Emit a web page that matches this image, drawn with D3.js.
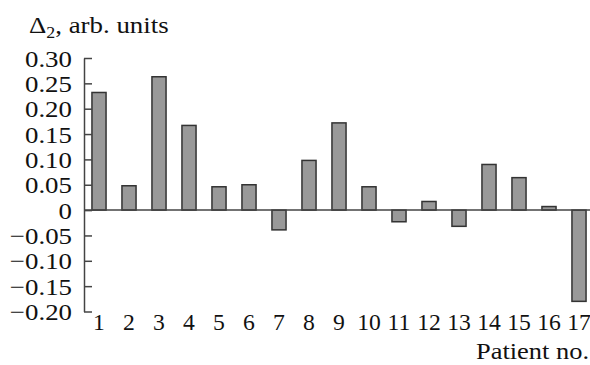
<!DOCTYPE html>
<html>
<head>
<meta charset="utf-8">
<script src="https://cdn.jsdelivr.net/npm/d3@7"></script>
<style>
  html, body { margin: 0; padding: 0; background: #fff; }
  svg { display: block; }
  text { font-family: "Liberation Serif", "Times New Roman", serif; fill: #111; }
</style>
</head>
<body>
<div id="chart"></div>
<script>
// Patient numbers and Δ2 values (arb. units)
const patients = [1, 2, 3, 4, 5, 6, 7, 8, 9, 10, 11, 12, 13, 14, 15, 16, 17];
const delta2 = [0.232, 0.048, 0.263, 0.167, 0.046, 0.050, -0.039, 0.098, 0.172, 0.046,
                -0.023, 0.017, -0.032, 0.090, 0.064, 0.007, -0.180];
const yTicks = [-0.20, -0.15, -0.10, -0.05, 0, 0.05, 0.10, 0.15, 0.20, 0.25, 0.30];

const W = 590, H = 365;
const fontSize = 24, stretch = 1.12, xFont = 23, xStretch = 1.03;

const svg = d3.select("#chart").append("svg")
  .attr("width", W).attr("height", H);

const x = d3.scaleBand()
  .domain(patients)
  .range([84, 594])
  .paddingInner(0.53)
  .paddingOuter(0.265);

const y = d3.scaleLinear()
  .domain([-0.20, 0.30])
  .range([311.5, 58]);

const axisColor = "#444";

// Bars
svg.append("g").selectAll("rect")
  .data(patients.map((p, i) => ({ p, v: delta2[i] })))
  .join("rect")
  .attr("x", d => x(d.p))
  .attr("width", x.bandwidth())
  .attr("y", d => y(Math.max(0, d.v)))
  .attr("height", d => Math.abs(y(d.v) - y(0)))
  .attr("fill", "#999")
  .attr("stroke", "#333")
  .attr("stroke-width", 1.5);

// Zero baseline
svg.append("line")
  .attr("x1", 84).attr("x2", 590)
  .attr("y1", y(0)).attr("y2", y(0))
  .attr("stroke", axisColor).attr("stroke-width", 1.5);

// Y axis with inward ticks
const yAxis = svg.append("g")
  .attr("transform", "translate(84,0)")
  .call(d3.axisLeft(y)
    .tickValues(yTicks)
    .tickSize(-8)
    .tickSizeOuter(0)
    .tickPadding(12)
    .tickFormat(d => d === 0 ? "0" : d3.format(".2f")(d)));
yAxis.select(".domain").attr("stroke", axisColor).attr("stroke-width", 1.5);
yAxis.selectAll(".tick line").attr("stroke", axisColor).attr("stroke-width", 1.5);
yAxis.selectAll(".tick text")
  .attr("font-size", fontSize)
  .attr("font-family", "Liberation Serif, serif")
  .attr("fill", "#111")
  .attr("x", -12 / stretch)
  .attr("dy", "0.34em")
  .attr("transform", `scale(${stretch},1)`);

// Patient number labels
const xAxis = svg.append("g")
  .attr("transform", "translate(0,330)")
  .call(d3.axisBottom(x).tickSize(0).tickPadding(0));
xAxis.select(".domain").remove();
xAxis.selectAll(".tick text")
  .attr("font-size", xFont)
  .attr("font-family", "Liberation Serif, serif")
  .attr("fill", "#111")
  .attr("y", 0)
  .attr("dy", 0)
  .attr("transform", `scale(${xStretch},1)`);

// Axis titles
const title = svg.append("text")
  .attr("font-size", fontSize)
  .attr("transform", `translate(29,33) scale(${stretch},1)`);
title.append("tspan").text("Δ");
title.append("tspan").attr("font-size", 16).attr("dy", 5).text("2");
title.append("tspan").attr("dy", -5).text(", arb. units");

svg.append("text")
  .attr("font-size", 23)
  .attr("text-anchor", "end")
  .attr("transform", `translate(589,359) scale(1.15,1)`)
  .text("Patient no.");
</script>
</body>
</html>
